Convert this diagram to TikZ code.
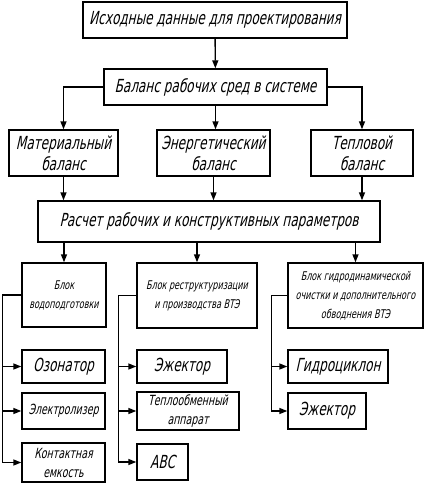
\documentclass[tikz,border=0pt]{standalone}
\usepackage{fontspec}
\setmainfont{DejaVu Sans}[FakeSlant=0.22,FakeStretch=0.67]
\usetikzlibrary{arrows.meta,positioning,calc}

\begin{document}
\begin{tikzpicture}[
    x=1pt, y=-1pt,
    >={Triangle[length=8pt,width=6pt]},
    blk/.style={rectangle, draw, line width=1.4pt, inner sep=1pt, align=center},
    big/.style={font=\fontsize{18}{21}\selectfont},
    mid/.style={font=\fontsize{14}{19}\selectfont},
    sml/.style={font=\fontsize{12}{19}\selectfont},
    arrow/.style={->, line width=1.4pt},
    bus/.style={line width=1.4pt},
]
\useasboundingbox (0,0) rectangle (425,483);

% upper part
\node[blk, big, minimum width=264pt, minimum height=36pt] (src) at (215,20) {Исходные данные для проектирования};
\node[blk, big, minimum width=223pt, minimum height=36pt] (bal) at (215.5,87) {Баланс рабочих сред в системе};

\node[blk, big, minimum width=109pt, minimum height=46pt] (mat) at (63.5,153) {Материальный\\баланс};
\node[blk, big, minimum width=113pt, minimum height=46pt] (enr) at (213.5,153) {Энергетический\\баланс};
\node[blk, big, minimum width=102pt, minimum height=46pt] (tpl) at (362,153) {Тепловой\\баланс};

\node[blk, big, minimum width=342pt, minimum height=41pt] (calc) at (209,221.5) {Расчет рабочих и конструктивных параметров};

\draw[arrow] (src) -- (bal);
\draw[arrow] (bal.west) -| (mat.north);
\draw[arrow] (bal.south) -- (bal.south |- enr.north);
\draw[arrow] (bal.east) -| (tpl.north);
\draw[arrow] (mat.south) -- (mat.south |- calc.north);
\draw[arrow] (enr.south) -- (enr.south |- calc.north);
\draw[arrow] (tpl.south) -- (tpl.south |- calc.north);

% blocks
\node[blk, sml, minimum width=84pt, minimum height=64pt] (wtr) at (64,295) {Блок\\водоподготовки};
\node[blk, sml, minimum width=120pt, minimum height=65pt] (rst) at (197,295.5) {Блок реструктуризации\\и производства ВТЭ};
\node[blk, sml, minimum width=135pt, minimum height=65pt] (hyd) at (355.5,295.5) {Блок гидродинамической\\очистки и дополнительного\\обводнения ВТЭ};

\draw[arrow] (wtr.north |- calc.south) -- (wtr.north);
\draw[arrow] (rst.north |- calc.south) -- (rst.north);
\draw[arrow] (hyd.north |- calc.south) -- (hyd.north);

% equipment
\node[blk, big, minimum width=83pt, minimum height=33pt] (ozn) at (63.5,366.5) {Озонатор};
\node[blk, mid, minimum width=83pt, minimum height=36pt] (elz) at (63.5,411) {Электролизер};
\node[blk, mid, minimum width=83pt, minimum height=39pt] (cnt) at (63.5,462.5) {Контактная\\емкость};

\node[blk, big, minimum width=90pt, minimum height=33pt] (ej1) at (182,366.5) {Эжектор};
\node[blk, mid, minimum width=102pt, minimum height=38pt] (hex) at (188,411) {Теплообменный\\аппарат};
\node[blk, big, minimum width=51pt, minimum height=36pt] (avs) at (162.5,462) {АВС};

\node[blk, big, minimum width=100pt, minimum height=33pt] (cyc) at (338,366.5) {Гидроциклон};
\node[blk, big, minimum width=78pt, minimum height=36pt] (ej2) at (327,411) {Эжектор};

\coordinate (b1) at ($(wtr.west)+(-19,0)$);
\coordinate (b2) at ($(rst.west)+(-18,0)$);
\coordinate (b3) at ($(hyd.west)+(-16,0)$);

\draw[bus] (wtr.west) -- (b1);
\draw[arrow] (b1) |- (cnt.west);
\draw[arrow] (b1 |- ozn.west) -- (ozn.west);
\draw[arrow] (b1 |- elz.west) -- (elz.west);

\draw[bus] (rst.west) -- (b2);
\draw[arrow] (b2) |- (avs.west);
\draw[arrow] (b2 |- ej1.west) -- (ej1.west);
\draw[arrow] (b2 |- hex.west) -- (hex.west);

\draw[bus] (hyd.west) -- (b3);
\draw[arrow] (b3) |- (ej2.west);
\draw[arrow] (b3 |- cyc.west) -- (cyc.west);
\end{tikzpicture}
\end{document}
